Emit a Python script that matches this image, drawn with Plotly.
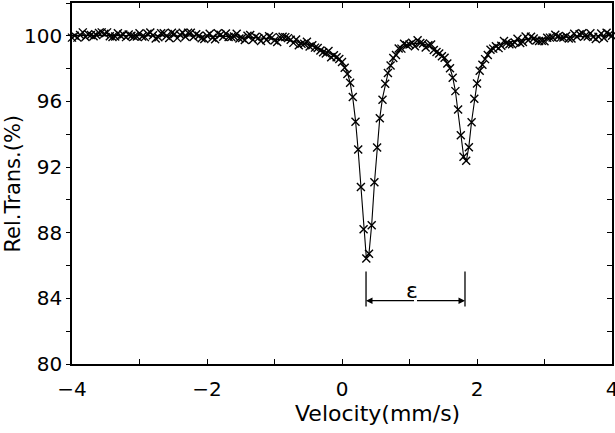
import plotly.graph_objects as go

velocity = [
    -4.00, -3.96, -3.92, -3.88, -3.84, -3.80, -3.76, -3.72, -3.68, -3.64,
    -3.60, -3.56, -3.52, -3.48, -3.44, -3.40, -3.36, -3.32, -3.28, -3.24,
    -3.20, -3.16, -3.12, -3.08, -3.04, -3.00, -2.96, -2.92, -2.88, -2.84,
    -2.80, -2.76, -2.72, -2.68, -2.64, -2.60, -2.56, -2.52, -2.48, -2.44,
    -2.40, -2.36, -2.32, -2.28, -2.24, -2.20, -2.16, -2.12, -2.08, -2.04,
    -2.00, -1.96, -1.92, -1.88, -1.84, -1.80, -1.76, -1.72, -1.68, -1.64,
    -1.60, -1.56, -1.52, -1.48, -1.44, -1.40, -1.36, -1.32, -1.28, -1.24,
    -1.20, -1.16, -1.12, -1.08, -1.04, -1.00, -0.96, -0.92, -0.88, -0.84,
    -0.80, -0.76, -0.72, -0.68, -0.64, -0.60, -0.56, -0.52, -0.48, -0.44,
    -0.40, -0.36, -0.32, -0.28, -0.24, -0.20, -0.16, -0.12, -0.08, -0.04,
    0.00, 0.04, 0.08, 0.12, 0.16, 0.20, 0.24, 0.28, 0.32, 0.36,
    0.40, 0.44, 0.48, 0.52, 0.56, 0.60, 0.64, 0.68, 0.72, 0.76,
    0.80, 0.84, 0.88, 0.92, 0.96, 1.00, 1.04, 1.08, 1.12, 1.16,
    1.20, 1.24, 1.28, 1.32, 1.36, 1.40, 1.44, 1.48, 1.52, 1.56,
    1.60, 1.64, 1.68, 1.72, 1.76, 1.80, 1.84, 1.88, 1.92, 1.96,
    2.00, 2.04, 2.08, 2.12, 2.16, 2.20, 2.24, 2.28, 2.32, 2.36,
    2.40, 2.44, 2.48, 2.52, 2.56, 2.60, 2.64, 2.68, 2.72, 2.76,
    2.80, 2.84, 2.88, 2.92, 2.96, 3.00, 3.04, 3.08, 3.12, 3.16,
    3.20, 3.24, 3.28, 3.32, 3.36, 3.40, 3.44, 3.48, 3.52, 3.56,
    3.60, 3.64, 3.68, 3.72, 3.76, 3.80, 3.84, 3.88, 3.92, 3.96,
    4.00,
]

transmission_measured = [
    99.89, 100.01, 99.89, 100.05, 100.21, 99.93, 100.09, 100.05, 99.97, 100.05,
    100.17, 100.21, 100.13, 100.21, 99.97, 99.93, 99.96, 100.16, 100.00, 100.08,
    99.92, 100.08, 100.00, 99.96, 99.96, 100.16, 99.96, 99.92, 100.12, 100.20,
    100.03, 99.83, 99.91, 100.15, 100.15, 99.99, 99.87, 100.19, 100.11, 99.86,
    100.06, 100.18, 99.94, 100.18, 100.18, 99.93, 100.09, 100.01, 99.85, 99.81,
    100.00, 100.12, 99.88, 99.79, 100.15, 100.07, 99.94, 100.14, 99.93, 99.93,
    99.96, 100.12, 99.83, 99.87, 99.74, 100.01, 100.05, 99.76, 99.95, 99.86,
    99.69, 99.92, 99.75, 99.98, 99.89, 99.71, 99.62, 99.92, 99.94, 99.92,
    99.86, 99.76, 99.57, 99.78, 99.43, 99.52, 99.52, 99.64, 99.35, 99.42,
    99.28, 99.26, 99.11, 99.00, 98.92, 99.07, 98.69, 98.82, 98.69, 98.59,
    98.40, 98.05, 97.68, 97.14, 96.27, 94.76, 93.07, 90.78, 88.21, 86.43,
    86.72, 88.45, 91.07, 93.20, 94.97, 96.11, 97.08, 97.73, 98.19, 98.65,
    98.83, 99.23, 99.22, 99.51, 99.42, 99.47, 99.58, 99.36, 99.73, 99.56,
    99.53, 99.29, 99.43, 99.47, 99.13, 99.01, 98.92, 98.75, 98.67, 98.31,
    98.03, 97.45, 96.63, 95.51, 93.94, 92.63, 92.39, 93.21, 94.73, 96.17,
    97.09, 97.87, 98.23, 98.58, 98.83, 99.15, 99.22, 99.37, 99.25, 99.40,
    99.69, 99.57, 99.49, 99.48, 99.59, 99.82, 99.56, 99.62, 99.96, 99.73,
    99.94, 99.83, 99.72, 99.69, 99.70, 99.67, 99.88, 99.89, 99.90, 100.07,
    99.96, 99.89, 99.90, 99.99, 99.84, 99.84, 100.13, 99.94, 100.10, 100.15,
    99.99, 99.96, 100.16, 99.93, 99.81, 99.94, 100.14, 99.87, 100.19, 100.08,
    100.00,
]

transmission_fit = [
    100.03, 100.03, 100.03, 100.03, 100.03, 100.03, 100.03, 100.03, 100.03, 100.03,
    100.03, 100.03, 100.03, 100.03, 100.03, 100.03, 100.02, 100.02, 100.02, 100.02,
    100.02, 100.02, 100.02, 100.02, 100.02, 100.02, 100.02, 100.02, 100.02, 100.02,
    100.01, 100.01, 100.01, 100.01, 100.01, 100.01, 100.01, 100.01, 100.01, 100.00,
    100.00, 100.00, 100.00, 100.00, 100.00, 99.99, 99.99, 99.99, 99.99, 99.99,
    99.98, 99.98, 99.98, 99.97, 99.97, 99.97, 99.96, 99.96, 99.95, 99.95,
    99.94, 99.94, 99.93, 99.93, 99.92, 99.91, 99.91, 99.90, 99.89, 99.88,
    99.87, 99.86, 99.85, 99.84, 99.83, 99.81, 99.80, 99.78, 99.76, 99.74,
    99.72, 99.70, 99.67, 99.64, 99.61, 99.58, 99.54, 99.50, 99.45, 99.40,
    99.34, 99.28, 99.21, 99.14, 99.06, 98.97, 98.87, 98.76, 98.64, 98.50,
    98.33, 98.10, 97.75, 97.15, 96.20, 94.85, 93.00, 90.75, 88.20, 86.50,
    86.75, 88.50, 91.00, 93.25, 95.00, 96.20, 97.05, 97.70, 98.20, 98.60,
    98.92, 99.14, 99.28, 99.37, 99.44, 99.49, 99.52, 99.54, 99.55, 99.54,
    99.51, 99.47, 99.41, 99.33, 99.23, 99.11, 98.98, 98.82, 98.62, 98.36,
    98.02, 97.48, 96.62, 95.42, 93.95, 92.72, 92.32, 93.28, 94.78, 96.10,
    97.10, 97.80, 98.30, 98.65, 98.90, 99.10, 99.24, 99.35, 99.43, 99.50,
    99.55, 99.59, 99.63, 99.66, 99.69, 99.72, 99.74, 99.76, 99.78, 99.79,
    99.80, 99.81, 99.82, 99.83, 99.84, 99.85, 99.86, 99.87, 99.88, 99.89,
    99.90, 99.91, 99.92, 99.93, 99.94, 99.94, 99.95, 99.96, 99.96, 99.97,
    99.97, 99.98, 99.98, 99.99, 99.99, 100.00, 100.00, 100.01, 100.01, 100.02,
    100.02,
]

x_ticks = [-4, -2, 0, 2, 4]
x_tick_labels = ["\u22124", "\u22122", "0", "2", "4"]
y_ticks = [80, 84, 88, 92, 96, 100]
y_tick_labels = ["80", "84", "88", "92", "96", "100"]

FONT = "DejaVu Sans"

fig = go.Figure()
fig.add_trace(go.Scatter(
    x=velocity, y=transmission_fit, mode="lines",
    line=dict(color="black", width=1.1), showlegend=False, hoverinfo="skip"))
fig.add_trace(go.Scatter(
    x=velocity, y=transmission_measured, mode="markers",
    marker=dict(symbol="x-thin", size=8, color="black",
                line=dict(color="black", width=1.4)),
    showlegend=False, cliponaxis=False))
# helper trace for the right-hand mirrored axis
fig.add_trace(go.Scatter(x=[None], y=[None], yaxis="y2", showlegend=False))

fig.update_layout(
    template="none",
    width=615, height=433,
    margin=dict(l=72, r=3, t=3, b=69, autoexpand=False),
    paper_bgcolor="white", plot_bgcolor="white",
    font=dict(family=FONT, color="black", size=20),
    xaxis=dict(
        range=[-4, 4], showgrid=False, zeroline=False, automargin=False,
        showline=True, linecolor="black", linewidth=1.6, mirror="ticks",
        ticks="inside", ticklen=5, tickwidth=1.3, tickcolor="black",
        tickvals=x_ticks, ticktext=x_tick_labels,
        tickfont=dict(family=FONT, size=20),
        ticklabeloverflow="allow",
        minor=dict(dtick=1, tick0=0, ticks="inside", ticklen=5,
                   tickwidth=1.3, tickcolor="black"),
        ticklabelstandoff=6,
    ),
    yaxis=dict(
        range=[80, 102], showgrid=False, zeroline=False, automargin=False,
        showline=True, linecolor="black", linewidth=1.6, mirror=True,
        ticks="outside", ticklen=4, tickwidth=1.3, tickcolor="black",
        tickvals=y_ticks, ticktext=y_tick_labels,
        tickfont=dict(family=FONT, size=20),
        minor=dict(dtick=2, tick0=80, ticks="outside", ticklen=4,
                   tickwidth=1.3, tickcolor="black"),
        ticklabelstandoff=0,
    ),
    yaxis2=dict(
        range=[80, 102], overlaying="y", side="right", showgrid=False,
        zeroline=False, showline=False, showticklabels=False, automargin=False,
        ticks="inside", ticklen=5, tickwidth=1.3, tickcolor="black",
        tickvals=y_ticks,
        minor=dict(dtick=2, tick0=80, ticks="inside", ticklen=5,
                   tickwidth=1.3, tickcolor="black"),
    ),
)

# axis titles
fig.add_annotation(
    text="Velocity(mm/s)", xref="paper", yref="paper",
    x=0.565, y=-0.136, xanchor="center", yanchor="middle",
    showarrow=False, font=dict(family=FONT, size=22))
fig.add_annotation(
    text="Rel.Trans.(%)", xref="paper", yref="paper",
    x=-0.111, y=0.5, xanchor="center", yanchor="middle", textangle=-90,
    showarrow=False, font=dict(family=FONT, size=21))

# quadrupole splitting marker
eps_left, eps_right, eps_y = 0.356, 1.822, 83.86
for xv in (eps_left, eps_right):
    fig.add_shape(type="line", xref="x", yref="y", x0=xv, x1=xv,
                  y0=83.5, y1=85.63, line=dict(color="black", width=1.3))
mid = (eps_left + eps_right) / 2
for xv in (eps_left, eps_right):
    fig.add_annotation(
        x=xv, y=eps_y, ax=mid, ay=eps_y, xref="x", yref="y",
        axref="x", ayref="y", text="", showarrow=True,
        arrowhead=2, arrowsize=1.0, arrowwidth=1.3, arrowcolor="black",
        standoff=0)
fig.add_annotation(
    text="\u03b5", x=1.04, y=84.45, xref="x", yref="y",
    showarrow=False, font=dict(family=FONT, size=22))

fig.write_html(
    "out.html",
    config={"displayModeBar": False},
    post_script="document.body.style.margin='0';document.body.style.overflow='hidden';",
)
